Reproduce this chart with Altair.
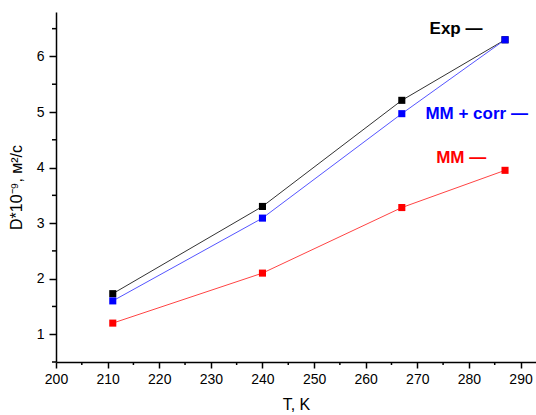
import altair as alt
import pandas as pd

T = [211, 240, 267, 287]
exp_vals = [1.73, 3.30, 5.21, 6.30]
mmcorr_vals = [1.60, 3.09, 4.97, 6.30]
mm_vals = [1.20, 2.10, 3.28, 3.95]
series_names = ["Exp", "MM + corr", "MM"]
series_colors = ["#000000", "#0000ff", "#ff0000"]
line_colors = ["#333333", "#5555ff", "#ff4444"]

x_major = list(range(200, 291, 10))
x_minor = list(range(205, 293, 10))
y_major = [1, 2, 3, 4, 5, 6]
y_minor = [0.5, 1.5, 2.5, 3.5, 4.5, 5.5, 6.5]

label_texts = ["Exp —", "MM + corr —", "MM —"]
label_T = [277.5, 281.5, 278.5]
label_D = [6.5, 4.97, 4.17]

rows = []
for name, vals in zip(series_names, [exp_vals, mmcorr_vals, mm_vals]):
    for t, v in zip(T, vals):
        rows.append({"T": t, "D": v, "series": name})
df = pd.DataFrame(rows)
lab = pd.DataFrame({"T": label_T, "D": label_D, "text": label_texts, "series": series_names})
xmin_df = pd.DataFrame({"T": x_minor})
ymin_df = pd.DataFrame({"D": y_minor})

font = "Liberation Sans"
xs = alt.Scale(domain=[200, 293], nice=False, zero=False)
ys = alt.Scale(domain=[0.5, 6.8], nice=False, zero=False)

xaxis = alt.Axis(values=x_major, title="T, K", labelPadding=4, tickSize=6, labelFlush=False,
                 labelFontSize=14, titleFontSize=16, titleFontWeight="normal", titlePadding=10,
                 grid=False, domainColor="black", tickColor="black", labelColor="black",
                 titleColor="black", labelFont=font, titleFont=font, domainWidth=1.5, tickWidth=1.5)
yaxis = alt.Axis(values=y_major, title="D*10⁻⁹, м²/с", labelPadding=5, tickSize=7, labelFlush=False,
                 labelFontSize=14, titleFontSize=16, titleFontWeight="normal", titlePadding=12,
                 grid=False, domainColor="black", tickColor="black", labelColor="black",
                 titleColor="black", labelFont=font, titleFont=font, domainWidth=1.5, tickWidth=1.5)

cscale = alt.Scale(domain=series_names, range=line_colors)
mscale = alt.Scale(domain=series_names, range=series_colors)

lines = alt.Chart(df).mark_line(strokeWidth=1).encode(
    x=alt.X("T:Q", scale=xs, axis=xaxis),
    y=alt.Y("D:Q", scale=ys, axis=yaxis),
    color=alt.Color("series:N", scale=cscale, legend=None),
    detail="series:N",
)
points = alt.Chart(df).mark_square(size=50, opacity=1).encode(
    x=alt.X("T:Q", scale=xs, axis=xaxis),
    y=alt.Y("D:Q", scale=ys, axis=yaxis),
    fill=alt.Fill("series:N", scale=mscale, legend=None),
)
texts = alt.Chart(lab).mark_text(fontWeight="bold", fontSize=17, font=font).encode(
    x=alt.X("T:Q", scale=xs, axis=xaxis),
    y=alt.Y("D:Q", scale=ys, axis=yaxis),
    text="text:N",
    fill=alt.Fill("series:N", scale=mscale, legend=None),
)
minor_x = alt.Chart(xmin_df).mark_rule(color="black", strokeWidth=1.5).encode(
    x=alt.X("T:Q", scale=xs, axis=xaxis),
    y=alt.value(350),
    y2=alt.value(353),
)
minor_y = alt.Chart(ymin_df).mark_rule(color="black", strokeWidth=1.5).encode(
    y=alt.Y("D:Q", scale=ys, axis=yaxis),
    x=alt.value(-4),
    x2=alt.value(0),
)

chart = alt.layer(lines, points, texts, minor_x, minor_y).properties(
    width=480, height=350,
    autosize=alt.AutoSizeParams(type="none"),
    padding={"left": 56, "top": 12, "right": 0, "bottom": 53},
).configure_view(stroke=None)

chart.save("out.html", embed_options={"renderer": "svg", "actions": False})
